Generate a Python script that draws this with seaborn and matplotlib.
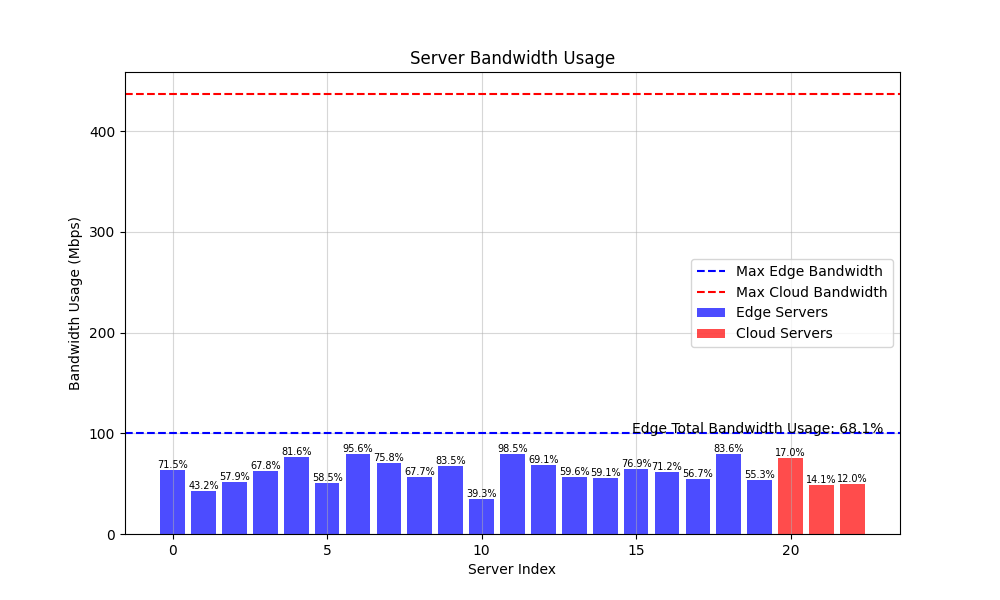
import matplotlib
matplotlib.use("Agg")
import matplotlib.pyplot as plt
from matplotlib.lines import Line2D
from matplotlib.patches import Patch
import pandas as pd
import seaborn as sns

# bandwidth per server (Mbps)
edge_usage = [64, 43, 52, 63, 76, 51, 79, 71, 57, 68, 35, 79,
              69, 57, 56, 65, 62, 55, 79, 54]
cloud_usage = [75, 49, 50]
edge_pct = [71.5, 43.2, 57.9, 67.8, 81.6, 58.5, 95.6, 75.8, 67.7, 83.5, 39.3, 98.5,
            69.1, 59.6, 59.1, 76.9, 71.2, 56.7, 83.6, 55.3]
cloud_pct = [17.0, 14.1, 12.0]
max_edge_bw = 100
max_cloud_bw = 437
edge_total_pct = 68.1

n_edge = len(edge_usage)
df = pd.DataFrame({
    "server": list(range(n_edge + len(cloud_usage))),
    "usage": edge_usage + cloud_usage,
    "pct": edge_pct + cloud_pct,
    "kind": ["Edge Servers"] * n_edge + ["Cloud Servers"] * len(cloud_usage),
})

fig, ax = plt.subplots(figsize=(10, 6), dpi=100)

sns.barplot(data=df, x="server", y="usage", hue="kind", native_scale=True,
            dodge=False, palette={"Edge Servers": "blue", "Cloud Servers": "red"},
            saturation=1, alpha=0.7, width=0.8, linewidth=0, legend=False, ax=ax)

for _, row in df.iterrows():
    ax.text(row["server"], row["usage"], f"{row['pct']:.1f}%",
            ha="center", va="bottom", fontsize=7)

ax.axhline(max_edge_bw, color="blue", linestyle="--")
ax.axhline(max_cloud_bw, color="red", linestyle="--")
ax.text(len(df), max_edge_bw, f"Edge Total Bandwidth Usage: {edge_total_pct}%",
        ha="right", fontsize=10)

ax.set_xlim(-1.54, 23.54)
ax.set_xticks([0, 5, 10, 15, 20])
ax.set_xticklabels(["0", "5", "10", "15", "20"])
ax.set_title("Server Bandwidth Usage")
ax.set_xlabel("Server Index")
ax.set_ylabel("Bandwidth Usage (Mbps)")
ax.grid(True, alpha=0.5)

handles = [
    Line2D([0], [0], color="blue", linestyle="--", label="Max Edge Bandwidth"),
    Line2D([0], [0], color="red", linestyle="--", label="Max Cloud Bandwidth"),
    Patch(facecolor="blue", alpha=0.7, linewidth=0, label="Edge Servers"),
    Patch(facecolor="red", alpha=0.7, linewidth=0, label="Cloud Servers"),
]
ax.legend(handles=handles, loc="center right")

fig.savefig("out.png")
